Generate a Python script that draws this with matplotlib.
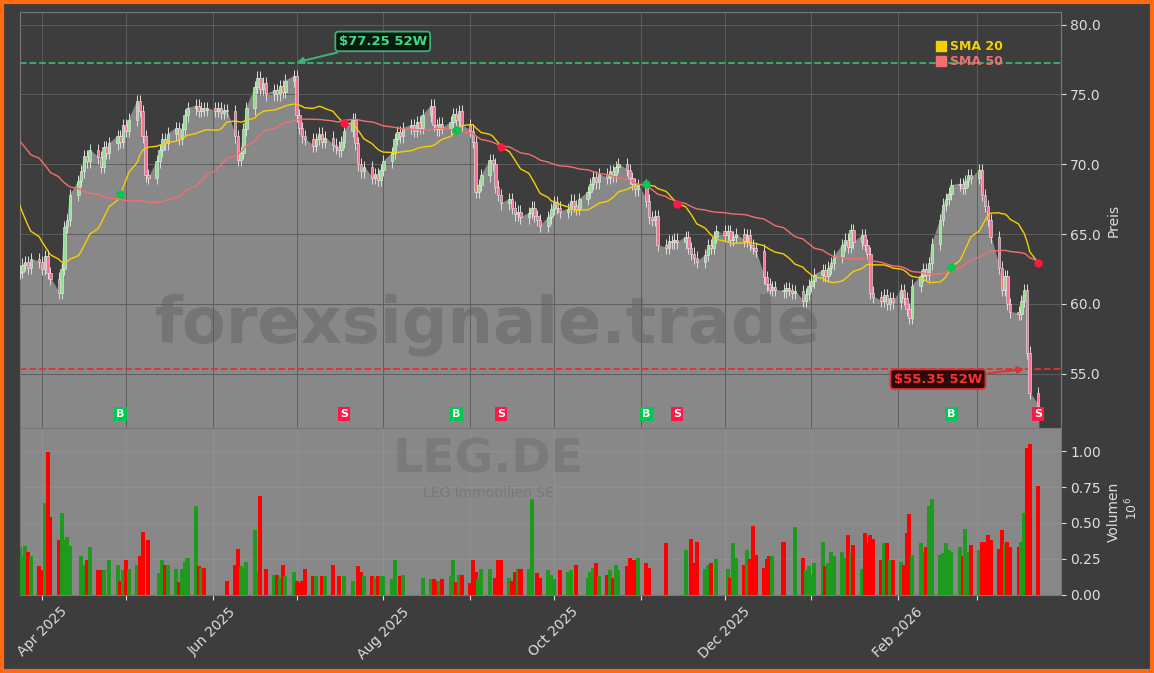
import numpy as np
import pandas as pd
import matplotlib
matplotlib.use("Agg")
import matplotlib.pyplot as plt
import matplotlib.dates as mdates
from matplotlib.ticker import FormatStrFormatter
from matplotlib.lines import Line2D

pre_closes = [75.0, 75.4, 74.8, 75.6, 76.0, 75.2, 74.6, 74.9, 75.5, 76.2,
              75.8, 75.1, 74.4, 74.0, 74.6, 75.3, 74.9, 74.2, 73.8, 74.5,
              75.0, 74.7, 74.1, 73.6, 74.3, 74.8, 74.2, 73.9, 74.4, 74.6,
              74.0, 73.2, 72.6, 72.0, 71.4, 70.8, 70.0, 69.2, 68.6, 68.0,
              67.2, 66.5, 65.8, 65.0, 64.4, 63.8, 63.2, 62.9, 62.5, 62.2]

closes = [
    62.3, 62.8, 63.0, 62.6, 63.2,  63.0, 62.5, 63.4, 62.2, 61.8,
    60.8, 62.5, 65.5, 66.0, 67.8,  68.8, 69.5, 70.6, 70.2, 71.0,
    70.5, 69.8, 71.2, 70.8, 71.5,  72.0, 71.6, 72.8, 72.4, 73.2,
    74.5, 73.8, 72.0, 69.2, 69.0,  70.2, 71.0, 71.8, 71.5, 72.2,
    72.6, 71.8, 72.5, 73.5, 74.0,  74.2, 73.8, 74.0, 73.9, 74.0,
    73.8, 74.0, 73.7, 73.9, 73.8,  72.0, 70.3, 70.8, 72.5, 74.0,
    75.5, 76.2, 75.4, 75.8, 75.0,  75.3, 75.0, 75.6, 75.2, 76.0,
    76.3, 73.5, 72.6, 72.0, 71.8,  71.3, 71.8, 72.2, 71.6, 71.9,
    71.4, 71.2, 71.0, 71.6, 72.4,  73.2, 71.5, 70.0, 69.5, 69.8,
    69.0, 69.3, 68.9, 69.6, 70.2,  70.8, 71.8, 72.3, 72.0, 72.6,
    72.8, 72.4, 73.0, 72.6, 73.5,  74.2, 72.8, 72.5, 72.9, 72.6,
    73.0, 73.6, 73.2, 73.8, 72.8,  72.4, 71.6, 68.0, 68.5, 69.2,
    70.3, 70.0, 68.4, 67.8, 67.2,  67.5, 66.9, 66.4, 66.6, 66.2,
    66.5, 66.9, 66.3, 66.0, 65.6,  66.2, 66.8, 67.3, 66.9, 66.6,
    66.8, 67.4, 67.0, 66.8, 67.5,  68.0, 68.6, 69.1, 68.7, 69.3,
    69.0, 69.5, 69.2, 69.8, 70.0,  69.6, 69.0, 68.6, 68.2, 68.5,
    67.4, 66.2, 66.0, 66.3, 64.2,  64.0, 64.5, 64.4, 64.6, 64.4,
    64.8, 64.0, 63.6, 63.3, 63.0,  63.5, 64.2, 64.0, 64.8, 65.2,
    64.9, 65.2, 64.6, 64.8, 65.0,  64.5, 64.9, 64.2, 64.0, 63.8,
    61.9, 61.4, 61.0, 61.2, 61.0,  60.9, 61.1, 61.0, 60.8, 60.9,
    60.2, 60.7, 61.3, 61.6, 62.1,  62.4, 62.0, 62.6, 62.9, 63.4,
    64.2, 64.6, 64.1, 65.3, 64.4,  64.9, 64.2, 63.6, 60.8, 60.5,
    60.2, 60.6, 60.0, 60.4, 60.1,  61.0, 60.4, 59.6, 59.0,
    61.3, 62.0, 62.5, 62.1, 62.9,  64.3, 66.0, 67.1, 67.5, 67.9,
    68.5, 68.6, 68.3, 68.8,  69.2, 69.0, 69.6, 67.8,
    67.0, 66.0, 64.8, 62.6,  61.0, 62.0, 60.0, 59.4, 59.3,
    60.2, 61.0, 56.5, 53.6,  52.7]

volumes = [
    0.33, 0.27, 0.34, 0.30, 0.27,  0.20, 0.17, 0.64, 0.99, 0.54,
    0.38, 0.57, 0.38, 0.40, 0.34,  0.00, 0.27, 0.21, 0.24, 0.33,
    0.17, 0.17, 0.17, 0.00, 0.24,  0.21, 0.10, 0.17, 0.24, 0.18,
    0.21, 0.27, 0.44, 0.00, 0.38,  0.00, 0.15, 0.24, 0.21, 0.21,
    0.18, 0.09, 0.18, 0.23, 0.26,  0.62, 0.20, 0.19, 0.19, 0.00,
    0.00, 0.00, 0.00, 0.00, 0.10,  0.21, 0.32, 0.20, 0.19, 0.23,
    0.45, 0.16, 0.69, 0.00, 0.18,  0.14, 0.14, 0.12, 0.21, 0.13,
    0.16, 0.10, 0.08, 0.10, 0.18,  0.13, 0.13, 0.00, 0.13, 0.13,
    0.21, 0.00, 0.13, 0.00, 0.13,  0.10, 0.00, 0.20, 0.16, 0.13,
    0.13, 0.12, 0.13, 0.13, 0.13,  0.11, 0.24, 0.00, 0.13, 0.14,
    0.00, 0.00, 0.00, 0.00, 0.12,  0.11, 0.11, 0.10, 0.10, 0.11,
    0.13, 0.24, 0.09, 0.14, 0.14,  0.08, 0.24, 0.16, 0.11, 0.18,
    0.18, 0.00, 0.12, 0.24, 0.24,  0.12, 0.10, 0.16, 0.18, 0.18,
    0.18, 0.67, 0.00, 0.15, 0.12,  0.17, 0.14, 0.11, 0.00, 0.17,
    0.16, 0.17, 0.00, 0.21, 0.00,  0.12, 0.16, 0.19, 0.22, 0.13,
    0.14, 0.17, 0.12, 0.21, 0.17,  0.20, 0.26, 0.24, 0.24, 0.26,
    0.22, 0.19, 0.00, 0.00, 0.00,  0.36, 0.00, 0.00, 0.00, 0.00,
    0.31, 0.00, 0.39, 0.22, 0.37,  0.18, 0.21, 0.22, 0.00, 0.25,
    0.00, 0.18, 0.12, 0.36, 0.26,  0.21, 0.31, 0.25, 0.48, 0.28,
    0.19, 0.25, 0.27, 0.27, 0.00,  0.37, 0.00, 0.00, 0.00, 0.47,
    0.26, 0.17, 0.20, 0.14, 0.22,  0.37, 0.20, 0.22, 0.30, 0.27,
    0.30, 0.26, 0.42, 0.29, 0.35,  0.18, 0.43, 0.36, 0.42, 0.39,
    0.24, 0.36, 0.36, 0.24, 0.24,  0.23, 0.21, 0.43, 0.56, 0.28,
    0.36, 0.30, 0.33, 0.62, 0.67,  0.28, 0.29, 0.36, 0.31, 0.30,
    0.33, 0.27, 0.46, 0.30,  0.35, 0.31, 0.37, 0.37,
    0.42, 0.38, 0.32, 0.45,  0.35, 0.37, 0.33,
    0.33, 0.37, 0.57, 1.02, 1.05, 0.76]

high_52w = 77.25
low_52w = 55.35
ticker = "LEG.DE"
company = "LEG Immobilien SE"

dates = pd.bdate_range("2025-03-24", periods=len(closes))
all_c = pd.Series(pre_closes + closes)
sma20 = all_c.rolling(20).mean().values[len(pre_closes):]
sma50 = all_c.rolling(50).mean().values[len(pre_closes):]
c = np.array(closes)
o = np.array([pre_closes[-1]] + closes[:-1])
hi = np.maximum(o, c) + 0.45
lo = np.minimum(o, c) - 0.45
v = np.array(volumes)
up = c >= o

BG = "#3d3d3d"
FILL = "#888888"
fig = plt.figure(figsize=(11.54, 6.73), dpi=100, facecolor=BG)
fig.patches.append(plt.Rectangle((0.002, 0.003), 0.996, 0.994, transform=fig.transFigure,
                                 fill=False, edgecolor="#ff6a13", linewidth=3, zorder=100))
ax = fig.add_axes([0.017, 0.364, 0.902, 0.618], facecolor=BG)
axv = fig.add_axes([0.017, 0.116, 0.902, 0.248], facecolor=FILL, sharex=ax)

x = mdates.date2num(dates)
ymin = 51.1
ax.fill_between(x, c, ymin, color=FILL, zorder=1)
ax.vlines(x, lo, hi, color="#dddddd", linewidth=0.7, zorder=3)
body_col = np.where(up, "#8fe08f", "#ff6f91")
ax.bar(x, np.maximum(np.abs(c - o), 0.08), bottom=np.minimum(o, c), width=0.9,
       color=body_col, edgecolor="#eeeeee", linewidth=0.4, zorder=4)
ax.plot(x, sma20, color="#f5d000", linewidth=1.0, zorder=5)
ax.plot(x, sma50, color="#f07070", linewidth=1.0, zorder=5)

ax.axhline(high_52w, color="#3cb371", linestyle="--", linewidth=1.3, zorder=2)
ax.axhline(low_52w, color="#e03030", linestyle="--", linewidth=1.3, zorder=2)

ih = int(np.argmax(hi))
ax.annotate(f"${high_52w:.2f} 52W", xy=(x[ih], high_52w), xytext=(x[ih] + 16, 78.8),
            color="#3ddc84", fontsize=9.5, fontweight="bold", ha="left", va="center",
            bbox=dict(boxstyle="round,pad=0.25", fc="#0b1a0f", ec="#3cb371", lw=1.3),
            arrowprops=dict(arrowstyle="-|>", color="#3cb371", lw=1.5), zorder=10)
ax.annotate(f"${low_52w:.2f} 52W", xy=(x[-3], low_52w), xytext=(x[-3] - 16, 54.6),
            color="#ff3030", fontsize=9.5, fontweight="bold", ha="right", va="center",
            bbox=dict(boxstyle="round,pad=0.25", fc="#2a0a0a", ec="#e03030", lw=1.3),
            arrowprops=dict(arrowstyle="-|>", color="#e03030", lw=1.5), zorder=10)

diff = sma20 - sma50
for i in range(1, len(c)):
    if np.isnan(diff[i - 1]):
        continue
    if diff[i - 1] <= 0 < diff[i] or diff[i - 1] >= 0 > diff[i]:
        buy = diff[i] > 0
        col = "#00c853" if buy else "#ff1744"
        ax.plot(x[i], sma20[i], "o", color=col, markersize=5, zorder=6)
        ax.text(x[i], 52.1, "B" if buy else "S", color="white", fontsize=8, fontweight="bold",
                ha="center", va="center", zorder=7,
                bbox=dict(boxstyle="square,pad=0.2", fc=col, ec="none"))

vcol = np.where(up, "#1e9a1e", "#ff0000")
axv.bar(x, v, width=1.45, color=vcol, zorder=3)

for a in (ax, axv):
    a.yaxis.tick_right()
    a.yaxis.set_label_position("right")
    a.tick_params(colors="#dddddd", labelsize=10)
    for s in a.spines.values():
        s.set_color("#777777")
ax.grid(True, color="#5e5e5e", linewidth=0.7, zorder=0)
axv.grid(True, color="#999999", linewidth=0.6, alpha=0.5, zorder=0)
ax.set_ylim(ymin, 80.9)
ax.set_yticks([55, 60, 65, 70, 75, 80])
ax.yaxis.set_major_formatter(FormatStrFormatter("%.1f"))
ax.set_ylabel("Preis", color="#dddddd", fontsize=10)
axv.set_ylim(0, 1.16)
axv.set_yticks([0, 0.25, 0.5, 0.75, 1.0])
axv.yaxis.set_major_formatter(FormatStrFormatter("%.2f"))
axv.set_ylabel("Volumen", color="#dddddd", fontsize=10, labelpad=4)
fig.text(0.981, 0.245, "$10^6$", rotation=90, color="#dddddd", fontsize=9, ha="center", va="center")

axv.set_xlim(mdates.date2num(pd.Timestamp("2025-03-24")), mdates.date2num(pd.Timestamp("2026-03-31")))
axv.xaxis.set_major_locator(mdates.MonthLocator())
axv.xaxis.set_major_formatter(plt.FuncFormatter(
    lambda val, pos: mdates.num2date(val).strftime("%b %Y") if mdates.num2date(val).month % 2 == 0 else ""))
plt.setp(ax.get_xticklabels(), visible=False)
plt.setp(axv.get_xticklabels(), rotation=45, ha="center")

handles = [Line2D([], [], marker="s", linestyle="none", color="#f5d000", markersize=7),
           Line2D([], [], marker="s", linestyle="none", color="#f07070", markersize=7)]
leg = ax.legend(handles, ["SMA 20", "SMA 50"], loc="upper left", bbox_to_anchor=(0.87, 0.96),
                frameon=False, handlelength=0.8, handletextpad=0.3, labelspacing=0.15,
                prop={"weight": "bold", "size": 9})
for t, col in zip(leg.get_texts(), ["#f5d000", "#f07070"]):
    t.set_color(col)

fig.text(0.423, 0.517, "forexsignale.trade", fontsize=46, fontweight="bold", color="#5a5a5a",
         alpha=0.4, ha="center", va="center")
fig.text(0.423, 0.316, ticker, fontsize=34, fontweight="bold", color="#6a6a6a",
         alpha=0.45, ha="center", va="center")
fig.text(0.423, 0.268, company, fontsize=10, color="#6a6a6a", alpha=0.5, ha="center", va="center")

fig.savefig("out.png", dpi=100, facecolor=BG)
